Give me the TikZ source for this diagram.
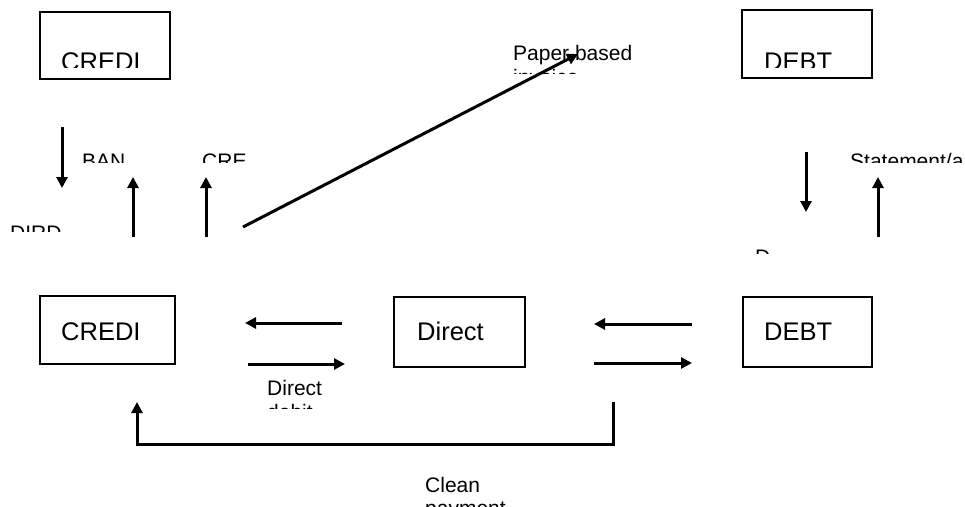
\documentclass[tikz,border=0pt]{standalone}
\usepackage{fontspec}
\setmainfont{Liberation Sans}
\usetikzlibrary{arrows.meta}

\begin{document}
\begin{tikzpicture}[x=1pt, y=-1pt,
        box/.style={draw, line width=2.4pt, inner sep=0pt},
        big/.style={font=\fontsize{25.5}{28}\selectfont, inner sep=0pt, anchor=base west},
        lbl/.style={font=\fontsize{21}{23}\selectfont, inner sep=0pt, anchor=base west},
        flow/.style={line width=3pt, -{Triangle[length=11pt, width=11pt]}}]
    \useasboundingbox (0, 0) rectangle (965, 506);
    % boxes
    \node[box, minimum width=130pt, minimum height=67pt] (credtop) at (105, 45.5) {};
    \node[box, minimum width=130pt, minimum height=68pt] (debttop) at (807, 44) {};
    \node[box, minimum width=135pt, minimum height=68pt] (cred) at (107.5, 330) {};
    \node[box, minimum width=131pt, minimum height=70pt] (direct) at (459.5, 332) {};
    \node[box, minimum width=129pt, minimum height=70pt] (debt) at (807.5, 332) {};
    \node[big] (credtxt) at (61, 340) {CREDI};
    \node[big] (directtxt) at (417, 340) {Direct};
    \node[big] (debttxt) at (764, 340) {DEBT};
    % texts cut off at the bottom
    \begin{scope}
        \clip (0, 0) rectangle (965, 67.5);
        \node[big] (credtoptxt) at (61, 70) {CREDI};
        \node[big] (debttoptxt) at (764, 70) {DEBT};
    \end{scope}
    \begin{scope}
        \clip (0, 140) rectangle (965, 162);
        \node[lbl] (ban) at (82, 168) {BAN};
        \node[lbl] (cre) at (202, 168) {CRE};
        \node[lbl] (stmt) at (850, 168) {Statement/a};
    \end{scope}
    \begin{scope}
        \clip (0, 215) rectangle (400, 231);
        \node[lbl] (dird) at (10, 240) {DIRD};
    \end{scope}
    \begin{scope}
        \clip (700, 240) rectangle (965, 253);
        \node[lbl] (pay) at (755, 264) {D};
    \end{scope}
    \begin{scope}
        \clip (400, 30) rectangle (700, 73);
        \node[lbl] (paper) at (513, 60) {Paper based};
        \node[lbl] (invoice) at (513, 84) {invoice};
    \end{scope}
    \begin{scope}
        \clip (200, 370) rectangle (400, 408);
        \node[lbl] (dd1) at (267, 395) {Direct};
        \node[lbl] (dd2) at (267, 419) {debit};
    \end{scope}
    \node[lbl] (clean) at (425, 492) {Clean};
    \node[lbl] (payment) at (425, 515) {payment};
    % connectors
    \coordinate (a1) at (62, 127);   \coordinate (a2) at (62, 188);
    \coordinate (b1) at (133, 237);  \coordinate (b2) at (133, 177);
    \coordinate (c1) at (206, 237);  \coordinate (c2) at (206, 177);
    \coordinate (d1) at (243, 227);  \coordinate (d2) at (578, 54);
    \coordinate (e1) at (806, 152);  \coordinate (e2) at (806, 212);
    \coordinate (f1) at (878, 237);  \coordinate (f2) at (878, 177);
    \draw[flow] (a1) -- (a2);
    \draw[flow] (b1) -- (b2);
    \draw[flow] (c1) -- (c2);
    \draw[flow] (d1) -- (d2);
    \draw[flow] (e1) -- (e2);
    \draw[flow] (f1) -- (f2);
    \coordinate (g1) at (342, 323);  \coordinate (g2) at (245, 323);
    \coordinate (h1) at (248, 364);  \coordinate (h2) at (345, 364);
    \coordinate (i1) at (692, 324);  \coordinate (i2) at (594, 324);
    \coordinate (j1) at (594, 363);  \coordinate (j2) at (692, 363);
    \draw[flow] (g1) -- (g2);
    \draw[flow] (h1) -- (h2);
    \draw[flow] (i1) -- (i2);
    \draw[flow] (j1) -- (j2);
    \coordinate (k1) at (613, 402);  \coordinate (k2) at (137, 402);
    \draw[flow] (k1) |- (137, 444) -- (k2);
\end{tikzpicture}
\end{document}
